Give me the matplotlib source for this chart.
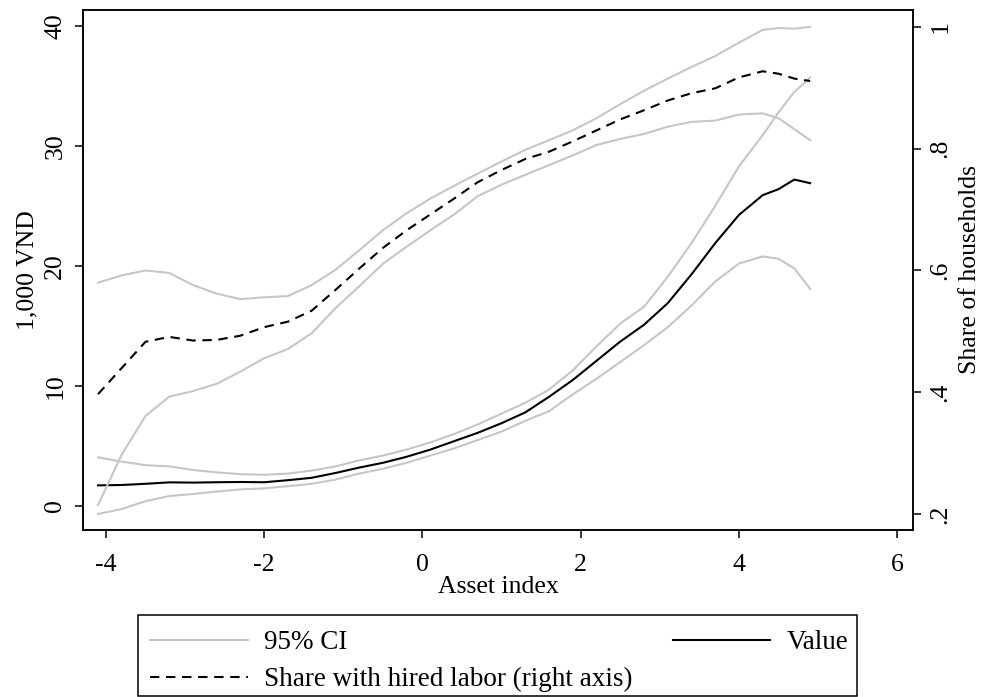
import numpy as np
import matplotlib
matplotlib.use("Agg")
from matplotlib import pyplot as plt
from matplotlib.patches import Rectangle

plt.rcParams['font.family'] = ['Liberation Serif', 'DejaVu Serif']

# asset index grid
asset = [-4.1, -3.8, -3.5, -3.2, -2.9, -2.6, -2.3, -2.0, -1.7, -1.4, -1.1, -0.8,
         -0.5, -0.2, 0.1, 0.4, 0.7, 1.0, 1.3, 1.6, 1.9, 2.2, 2.5, 2.8,
         3.1, 3.4, 3.7, 4.0, 4.3, 4.5, 4.7, 4.9]

# value, 1,000 VND (left axis)
value = [1.72, 1.75, 1.85, 1.97, 1.95, 1.98, 2.0, 1.98, 2.15, 2.35, 2.75, 3.2,
         3.6, 4.1, 4.7, 5.4, 6.1, 6.9, 7.8, 9.1, 10.5, 12.1, 13.7, 15.1,
         16.9, 19.3, 21.9, 24.25, 25.9, 26.4, 27.2, 26.9]
value_hi = [4.05, 3.7, 3.4, 3.3, 3.0, 2.8, 2.65, 2.6, 2.7, 2.95, 3.3, 3.8,
            4.2, 4.7, 5.3, 6.0, 6.8, 7.7, 8.6, 9.7, 11.3, 13.3, 15.2, 16.6,
            19.1, 21.9, 25.0, 28.3, 30.9, 32.8, 34.5, 35.7]
value_lo = [-0.67, -0.25, 0.4, 0.83, 1.0, 1.2, 1.38, 1.47, 1.65, 1.85, 2.2, 2.7,
            3.1, 3.6, 4.2, 4.8, 5.5, 6.2, 7.1, 7.9, 9.3, 10.6, 12.0, 13.4,
            14.9, 16.7, 18.7, 20.2, 20.8, 20.6, 19.8, 18.1]

# share of households with hired labor (right axis)
share = [0.397, 0.440, 0.483, 0.491, 0.485, 0.486, 0.493, 0.507, 0.516, 0.534, 0.568, 0.603,
         0.637, 0.666, 0.692, 0.718, 0.745, 0.765, 0.783, 0.795, 0.812, 0.830, 0.848, 0.863,
         0.879, 0.891, 0.899, 0.917, 0.927, 0.923, 0.915, 0.911]
share_hi = [0.580, 0.592, 0.600, 0.596, 0.576, 0.562, 0.553, 0.556, 0.558, 0.576, 0.601, 0.633,
            0.666, 0.694, 0.718, 0.739, 0.759, 0.779, 0.798, 0.814, 0.830, 0.850, 0.873, 0.895,
            0.915, 0.934, 0.952, 0.974, 0.995, 0.998, 0.997, 1.000]
share_lo = [0.215, 0.298, 0.361, 0.393, 0.402, 0.414, 0.434, 0.456, 0.471, 0.497, 0.538, 0.574,
            0.611, 0.639, 0.666, 0.692, 0.722, 0.741, 0.757, 0.773, 0.789, 0.806, 0.816, 0.824,
            0.836, 0.844, 0.846, 0.856, 0.858, 0.850, 0.832, 0.814]

x_ticks = [-4, -2, 0, 2, 4, 6]
left_ticks = [0, 10, 20, 30, 40]
right_ticks = [0.2, 0.4, 0.6, 0.8, 1.0]
right_labels = ['.2', '.4', '.6', '.8', '1']

gray = '#c6c6c6'
fs = 18.5
lfs = 19.5

W, H = 983, 697
fig = plt.figure(figsize=(W / 100, H / 100), dpi=100)
ax = fig.add_axes([83 / W, 1 - 530 / H, 830 / W, 520 / H])
ax2 = ax.twinx()

ci1, = ax.plot(asset, value_hi, color=gray, lw=1.5)
ax.plot(asset, value_lo, color=gray, lw=1.5)
val, = ax.plot(asset, value, color='black', lw=1.5)

ax2.plot(asset, share_hi, color=gray, lw=1.5)
ax2.plot(asset, share_lo, color=gray, lw=1.5)
sh, = ax2.plot(asset, share, color='black', lw=1.5, dashes=(4.5, 3.2))

ax.set_xlim(-4.29, 6.2)
ax.set_ylim(-2.0, 41.33)
ax2.set_ylim(0.174, 1.0276)

ax.set_xticks(x_ticks)
ax.set_xticklabels([str(t) for t in x_ticks], fontsize=fs)
ax.set_yticks(left_ticks)
ax.set_yticklabels([str(t) for t in left_ticks], fontsize=fs, rotation=90, va='center')
ax2.set_yticks(right_ticks)
ax2.set_yticklabels(right_labels, fontsize=fs, rotation=90, va='center')

for a in (ax, ax2):
    a.tick_params(direction='out', length=6, width=1.1, pad=6)
    for s in a.spines.values():
        s.set_linewidth(1.1)
ax.tick_params(axis='x', pad=11)

ax.set_xlabel('Asset index', fontsize=fs, labelpad=0)
ax.set_ylabel('1,000 VND', fontsize=fs, labelpad=4)
ax2.set_ylabel('Share of households', fontsize=fs, labelpad=5)

# legend frame drawn by hand, two frameless legends inside
fig.patches.append(Rectangle((138 / W, 1 / H), 719 / W, (697 - 615 - 1) / H,
                             transform=fig.transFigure, fill=False,
                             edgecolor='black', lw=1.1))
leg1 = fig.legend([ci1, sh], ['95% CI', 'Share with hired labor (right axis)'],
                  loc='upper left', bbox_to_anchor=(150 / W, 1 - 630 / H),
                  fontsize=lfs, frameon=False, handlelength=3.6, handletextpad=0.6,
                  borderpad=0, labelspacing=0.45, borderaxespad=0)
leg2 = fig.legend([val], ['Value'],
                  loc='upper right', bbox_to_anchor=(848 / W, 1 - 630 / H),
                  fontsize=lfs, frameon=False, handlelength=3.6, handletextpad=0.6,
                  borderpad=0, borderaxespad=0)

fig.savefig('out.png', dpi=100)
